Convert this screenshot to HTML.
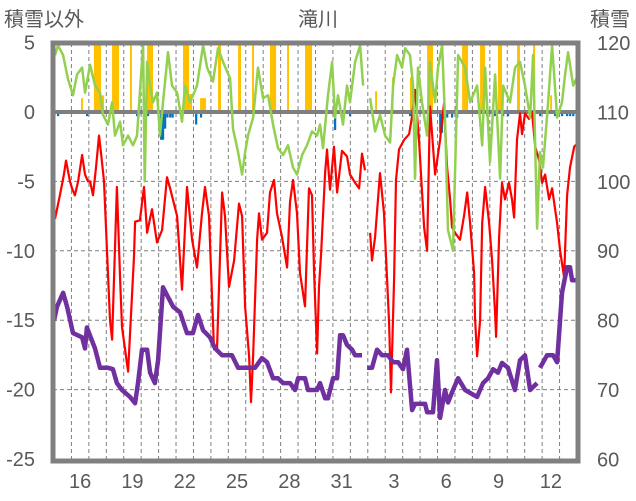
<!DOCTYPE html>
<html><head><meta charset="utf-8">
<style>
html,body{margin:0;padding:0;background:#fff;}
svg{display:block;font-family:"Liberation Sans","Noto Sans CJK JP",sans-serif;}
text{fill:#595959;}
</style></head>
<body>
<svg id="chart" width="636" height="501" viewBox="0 0 636 501">
<text x="318" y="26" font-size="20" text-anchor="middle">滝川</text>
<text x="4" y="26" font-size="20">積雪以外</text>
<text x="590" y="26" font-size="20">積雪</text>
<g id="grid"></g>
<g id="bars"></g>
<g id="series"></g>
<g id="frame"></g>
<g id="labels"></g>
</svg>
<script>
// ---- data (t = days since Dec 15 00:00) ----
const dayNums = [15,16,17,18,19,20,21,22,23,24,25,26,27,28,29,30,31,1,2,3,4,5,6,7,8,9,10,11,12,13];
const leftTicks = [5,0,-5,-10,-15,-20,-25];
const rightTicks = [120,110,100,90,80,70,60];

const redT = [0.06,0.34,0.57,0.69,0.92,1.03,1.2,1.38,1.61,1.78,1.95,2.07,2.24,2.41,2.58,2.7,2.87,3.04,3.21,3.33,3.61,3.79,3.9,4.25,4.59,4.65,4.93,5.16,5.34,5.62,5.91,6.2,6.48,6.66,7.06,7.34,7.63,7.92,8.2,8.49,8.66,8.89,9.18,9.35,9.64,9.81,10.04,10.33,10.61,10.79,10.96,11.19,11.3,11.42,11.65,11.76,11.93,12.22,12.39,12.62,12.79,13.08,13.37,13.54,13.71,13.94,14.11,14.4,14.63,14.8,14.92,15.09,15.2,15.32,15.55,15.66,15.83,16.06,16.24,16.52,16.81,16.98,17.27,17.5,17.67,17.84,null,18.13,18.24,18.42,18.7,18.93,19.22,19.33,19.51,19.62,19.79,20.08,20.37,20.54,20.71,20.94,21.23,21.4,21.57,21.86,22.15,22.37,22.55,22.72,22.83,23.01,23.29,23.52,23.7,23.87,24.1,24.15,24.27,24.44,24.56,24.73,24.96,25.13,25.3,25.36,25.53,25.7,25.87,26.1,26.27,26.39,26.56,26.73,26.85,27.02,27.25,27.42,27.6,27.83,28,28.17,28.4,28.57,28.86,29.03,29.26,29.43,29.6,29.84,30];
const redV = [-7.7,-6,-4.5,-3.5,-5,-5.5,-6,-5,-3.1,-4.5,-5,-5,-6,-4,-1.7,-3,-5,-10,-15,-16.4,-5.4,-12,-15.5,-18.7,-10.4,-7.9,-7.8,-5.4,-8.7,-7,-9.4,-8.5,-4.7,-5.5,-7.5,-12.8,-5.4,-9.2,-11.2,-7.3,-5.4,-7.5,-17.1,-17.1,-5.8,-7.5,-12.6,-10.7,-6.6,-7.5,-14,-17.6,-20.9,-17.6,-9.2,-7.3,-9.2,-8.7,-5.8,-4.9,-7.3,-9,-11.2,-6.5,-4.9,-7.3,-11.6,-14,-5.5,-6,-11.6,-17.4,-12.6,-10.2,-4.4,-2.7,-5.6,-2.5,-5.8,-2.8,-3.2,-4.5,-5.1,-5.5,-3,-4.2,null,-8.7,-10.7,-9,-4.4,-7.3,-15.2,-20.2,-12,-4.9,-2.7,-2,-1.6,-0.3,1.6,-2,-8.3,-10,0.4,-4.5,-2,0.6,-4,-6.3,-8.3,-8.7,-9.2,-7.5,-5.8,-8,-11.6,-14.8,-17.6,-15,-8,-5.4,-8,-10.7,-14.5,-16.2,-9,-5.1,-6.3,-5.1,-6.3,-7.6,-2,-0.1,-1.6,-0.1,-0.5,0,-2.5,-3.5,-5.1,-4.5,-6.3,-5.5,-8,-10,-11.9,-6,-4,-2.5,-2.3];

const greenT = [0.06,0.23,0.52,0.8,1.09,1.32,1.61,1.78,2.07,2.35,2.64,2.81,3.1,3.33,3.5,3.79,3.96,4.25,4.53,4.76,5.11,5.2,5.34,5.51,5.68,5.91,6.08,6.25,6.54,6.77,7.06,7.34,7.52,7.8,8.2,8.55,8.78,9.12,9.41,9.7,10.1,10.27,10.56,10.79,10.96,11.13,11.42,11.7,11.99,12.28,12.56,12.85,13.14,13.42,13.71,13.94,14.23,14.51,14.8,15.09,15.26,15.43,15.72,15.95,16.12,16.29,16.58,16.81,16.98,17.27,17.56,17.73,null,18.13,18.42,18.7,18.99,19.28,19.45,19.68,19.96,20.14,20.42,20.6,20.71,20.88,21.11,21.4,21.57,21.86,22.03,22.26,22.43,22.6,22.89,23.18,23.58,23.87,24.27,24.56,24.73,25.01,25.3,25.59,25.76,26.16,26.45,26.73,27.02,27.31,27.48,27.71,27.88,28.05,28.34,28.57,28.86,29.14,29.32,29.49,29.78,30];
const greenV = [4.1,4.8,4.1,2.4,1.2,2.7,3.2,1.4,3.4,1.9,1.4,-0.2,-0.9,0.7,-1.7,-0.7,-2.4,-1.7,-2.4,-1.7,4.8,-5,3.6,1.9,0.7,1.4,-1.7,0.7,4.3,1.9,1.4,-0.7,1.9,0.7,1.9,4.8,3.2,2.2,4.6,3.6,2.4,-1.2,-2.9,-4.5,-2.9,-1.7,-0.4,3.2,1,1.2,-0.9,-2.6,-3.1,-2.4,-4,-4.5,-3.1,-2.4,-1.4,-1.7,-0.9,-2.6,1.2,3.6,-0.4,1.2,-0.9,1.9,0.7,3.6,4.8,1.9,null,1,-1.4,-0.2,-1.7,-2.2,1.9,4.1,3.2,4.6,4.1,1.9,-4.8,3.2,0.7,-1.7,3.6,0.7,3.2,4.8,-0.4,-8.5,-10,4.1,3.2,0.7,1.9,-2.4,3.2,-3.6,2.7,-4.8,1.9,0.7,3.2,3.6,1.9,-0.4,4.1,-8.4,-2.9,-4,0.7,4.8,-0.4,0.7,2.7,4.3,1.9,2.5];

const snowT = [0,0.17,0.52,0.75,1.09,1.61,1.78,1.89,2.35,2.64,3.1,3.38,3.61,3.9,4.36,4.65,4.82,5.05,5.34,5.51,5.79,5.97,6.25,6.54,6.83,7.23,7.63,7.97,8.26,8.55,8.95,9.24,9.64,10.21,10.56,11.24,11.53,11.93,12.22,12.56,12.85,13.14,13.54,13.83,14,14.4,14.57,15.09,15.26,15.55,15.72,16.01,16.24,16.41,16.58,16.81,17.1,17.27,17.67,null,17.96,18.24,18.53,18.82,19.16,19.45,19.74,20.02,20.25,20.54,20.71,21.29,21.4,21.74,21.97,22.15,22.43,22.6,22.89,23.18,23.58,24.27,24.61,24.9,25.19,25.47,25.7,26.04,26.44,26.73,27.02,27.31,27.71,null,27.88,28.28,28.63,28.86,29.14,29.43,29.6,29.72,30];
const snowV = [80,82,84,82,78.2,77.6,76,79,76,73.2,73.2,73,71,70,69,68.1,71,75.8,75.8,72.5,71,74.3,84.8,83.4,82,81.2,78.2,78.2,80.8,78.6,77.6,76,75,75,73.2,73.2,73.2,74.6,74,71.7,71.7,71,71,70,71.7,71.7,70,70,71,68.8,68.8,71.7,71.7,77.9,77.9,76.5,75.8,75,75,null,73.2,73.2,75.8,75,75,74,74,73,75.8,67.1,68,68,66.8,66.8,74.3,66,70,68.2,70,71.7,70,69,71,71.7,73,72.5,73.9,73.2,70,74.3,75,70,71,null,73.2,75,75,74,84,87.7,87.7,85.8,85.8];

const precipStart = [1.55,2.29,2.7,3.33,4.36,5.34,7.4,7.75,8.38,9.41,10.56,11.36,12.39,13.37,14.4,14.69,18.42,19.39,20.42,21.4,23.41,24.44,25.47,26.56,27.48,28.46];
const precipEnd   = [1.66,2.7,2.87,3.73,4.47,5.68,7.75,7.92,8.72,9.58,10.73,11.47,12.74,13.48,14.74,14.8,18.53,19.45,20.6,21.74,23.75,24.73,25.7,26.73,27.6,28.57];
const precipV     = [1,5,1.2,5,5,5,5,1.3,1,5,5,5,5,5,5,5,1.5,2.5,2.5,5,5,5,5,5,5,1.2];

const blueT = [0.02,0.23,1.89,4.76,4.85,5.39,6.14,6.25,6.37,6.5,6.66,6.8,8.15,8.43,16.12,16.98,18.7,20.42,22.15,22.25,22.55,22.83,23.12,24.84,25.3,25.76,26.04,27.88,28.28,28.74,29.14,29.43,29.6,29.78];
const blueV = [-0.3,-0.3,-0.3,-0.3,-0.3,-0.3,-2,-2,-1.2,-0.4,-0.4,-0.4,-0.9,-0.4,-1.3,-0.3,-0.4,-0.3,-1.5,-1.5,-0.4,-0.4,-0.4,-0.3,-0.3,-0.3,-0.3,-0.3,-0.3,-0.3,-0.3,-0.3,-0.3,-0.3];

// ---- axes ----
const X0=54, DX=17.433;
function xs(t){return X0+t*DX;}
function yL(v){return 112-v*13.88;}
function yR(s){return 43+(120-s)*6.94;}
const NS='http://www.w3.org/2000/svg';
function mk(tag,attrs,parent){const e=document.createElementNS(NS,tag);for(const k in attrs)e.setAttribute(k,attrs[k]);parent.appendChild(e);return e;}

const grid=document.getElementById('grid');
for(let d=1;d<dayNums.length;d++){
  const l=mk('line',{x1:xs(d),x2:xs(d),y1:43,y2:461,stroke:'#7f7f7f','stroke-width':1,'stroke-dasharray':'4,3'},grid);
  
  
}
leftTicks.forEach(v=>{ if(v===5||v===0||v===-25) return;
  const l=mk('line',{x1:53,x2:578,y1:yL(v),y2:yL(v),stroke:'#7f7f7f','stroke-width':1,'stroke-dasharray':'4,3'},grid);
  
  
});

const bars=document.getElementById('bars');
precipStart.forEach((s,i)=>{
  const r=mk('rect',{x:xs(s),y:yL(precipV[i]),width:Math.max(1.5,xs(precipEnd[i])-xs(s)),height:yL(0)-yL(precipV[i]),fill:'#FFC000'},bars);
  
  
});
blueT.forEach((t,i)=>{
  const r=mk('rect',{x:xs(t)-1,y:yL(0),width:2.2,height:yL(blueV[i])-yL(0),fill:'#0070C0'},bars);
  
  
});

function pathFrom(T,V,yf){let d='',pen=false;for(let i=0;i<T.length;i++){if(T[i]===null||V[i]===null){pen=false;continue;}d+=(pen?'L':'M')+xs(T[i]).toFixed(1)+','+yf(V[i]).toFixed(1);pen=true;}return d;}
const series=document.getElementById('series');
const zero=mk('line',{x1:53,x2:578,y1:yL(0),y2:yL(0),stroke:'#7f7f7f','stroke-width':4},series);


const red=mk('path',{d:pathFrom(redT,redV,yL),fill:'none',stroke:'#FF0000','stroke-width':2.2,'stroke-linejoin':'round'},series);


const green=mk('path',{d:pathFrom(greenT,greenV,yL),fill:'none',stroke:'#92D050','stroke-width':2.5,'stroke-linejoin':'round'},series);


const purple=mk('path',{d:pathFrom(snowT,snowV,yR),fill:'none',stroke:'#7030A0','stroke-width':4.5,'stroke-linejoin':'round'},series);



const frame=document.getElementById('frame');
const fr=mk('rect',{x:53,y:43,width:525,height:418,fill:'none',stroke:'#808080','stroke-width':5},frame);



const labels=document.getElementById('labels');
leftTicks.forEach(v=>{
  const t=mk('text',{x:35,y:yL(v)+7,'font-size':20,'text-anchor':'end'},labels);
  t.textContent=String(v);
  
  
});
rightTicks.forEach(s=>{
  const t=mk('text',{x:597,y:yR(s)+7,'font-size':20},labels);
  t.textContent=String(s);
  
  
});
dayNums.forEach((d,i)=>{ if(i%3!==1) return;
  const t=mk('text',{x:xs(i+0.5),y:488,'font-size':20,'text-anchor':'middle'},labels);
  t.textContent=String(d);
  
  
});
</script>
</body></html>
